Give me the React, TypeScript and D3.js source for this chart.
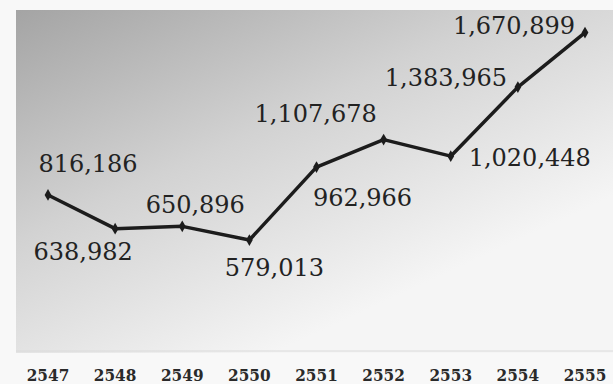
import React from "react";
import * as d3 from "d3";

const years = ["2547", "2548", "2549", "2550", "2551", "2552", "2553", "2554", "2555"];
const values = [816186, 638982, 650896, 579013, 962966, 1107678, 1020448, 1383965, 1670899];
// label offsets (px) relative to each point: [dx, dy]
const labelDx = [40, -32, 13, 25, 46, -68, 79, -72, -71];
const labelDy = [-23, 31, -13, 36, 39, -18, 10, -1, 1];

const W = 613;
const H = 384;

export default function App() {
  const x = d3.scalePoint<string>().domain(years).range([48, 585]);
  const y = d3.scaleLinear().domain([0, 1790000]).range([350, 10]);
  const line = d3
    .line<number>()
    .x((_, i) => x(years[i]) as number)
    .y((d) => y(d));
  const fmt = d3.format(",");
  const diamond = d3.symbol().type(d3.symbolDiamond).size(40)() as string;

  return (
    <svg
      width={W}
      height={H}
      style={{ position: "absolute", left: 0, top: 0, background: "#f8f8f8" }}
    >
      <defs>
        <linearGradient id="bg" gradientUnits="userSpaceOnUse" x1={16} y1={10} x2={192} y2={391}>
          <stop offset="0" stopColor="#a4a4a4" />
          <stop offset="0.5" stopColor="#d2d2d2" />
          <stop offset="1" stopColor="#f5f5f5" />
        </linearGradient>
      </defs>
      <rect x={16} y={10} width={W - 16} height={y(0) - 10 + 3} fill="url(#bg)" />
      <line x1={16} x2={W} y1={y(0) + 1} y2={y(0) + 1} stroke="#dadada" strokeWidth={1} />
      <path d={line(values) as string} fill="none" stroke="#1c1c1c" strokeWidth={3.5} strokeLinejoin="round" />
      {values.map((v, i) => (
        <path
          key={"m" + i}
          d={diamond}
          transform={`translate(${x(years[i])},${y(v)})`}
          fill="#1c1c1c"
        />
      ))}
      {values.map((v, i) => (
        <text
          key={"l" + i}
          x={(x(years[i]) as number) + labelDx[i]}
          y={y(v) + labelDy[i]}
          textAnchor="middle"
          fontFamily="DejaVu Serif"
          fontSize={24}
          fill="#222"
        >
          {fmt(v)}
        </text>
      ))}
      {years.map((yr) => (
        <text
          key={"x" + yr}
          x={x(yr) as number}
          y={381}
          textAnchor="middle"
          fontFamily="DejaVu Serif Condensed, DejaVu Serif"
          fontWeight="bold"
          fontSize={17}
          fill="#2a2a2a"
        >
          {yr}
        </text>
      ))}
    </svg>
  );
}
